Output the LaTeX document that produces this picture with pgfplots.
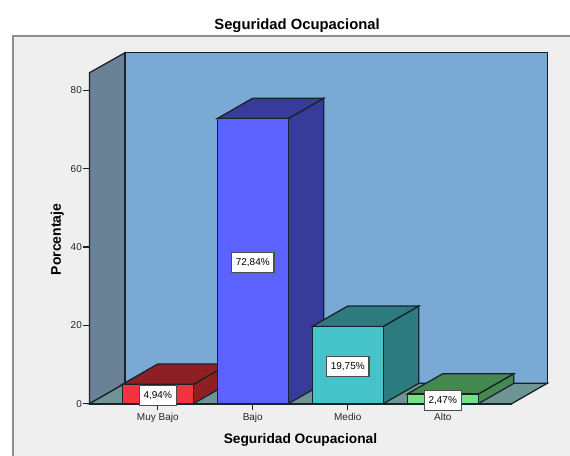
\documentclass[border=0pt]{standalone}
\usepackage{pgfplots}
\pgfplotsset{compat=1.18}
\usepackage{fontspec}
\setmainfont{Liberation Sans}
\definecolor{panel}{HTML}{EFEFEF}
\definecolor{frame}{HTML}{8E8E8E}
\definecolor{edge}{HTML}{17232B}
\definecolor{wallL}{HTML}{6B8196}
\definecolor{wallB}{HTML}{7BA9D5}
\definecolor{floorc}{HTML}{6F9494}
\definecolor{redF}{HTML}{F5333F}
\definecolor{redD}{HTML}{8E1F22}
\definecolor{bluF}{HTML}{5B62FF}
\definecolor{bluD}{HTML}{383B99}
\definecolor{teaF}{HTML}{45C3C8}
\definecolor{teaD}{HTML}{2B7B7F}
\definecolor{greF}{HTML}{73E186}
\definecolor{greD}{HTML}{458950}
\begin{document}
\begin{tikzpicture}
\path[use as bounding box,fill=white] (0,0) rectangle (427.5pt,341.25pt);
\draw[frame,fill=panel,line width=1.1pt] (9.75pt,-10pt) rectangle (440pt,314.25pt);
\begin{axis}[
  at={(67.1pt,38.475pt)},anchor=south west,
  scale only axis,width=343.275pt,height=263.25pt,
  xmin=-0.719,xmax=4.099,ymin=0,ymax=89.66,
  clip=false,
  axis line style={draw=none},
  tick align=outside,xtick pos=bottom,ytick pos=left,
  major tick length=4.6pt,
  tick style={edge,line width=1pt},
  xtick={0,1,2,3},
  xticklabels={Muy Bajo,Bajo,Medio,Alto},
  ytick={0,20,40,60,80},
  /pgf/number format/assume math mode=true,
  tick label style={font=\fontsize{7.5}{9}\selectfont,text=black!85},
  xticklabel style={yshift=0.6pt},
  yticklabel style={xshift=2.4pt},
  title={Seguridad Ocupacional},
  every axis title/.style={at={(axis description cs:0.4535,1.077)},anchor=center,font=\fontsize{11.1}{13}\selectfont\bfseries},
  xlabel={Seguridad Ocupacional},
  ylabel={Porcentaje},
  every axis x label/.style={at={(axis description cs:0.461,-0.103)},anchor=center,font=\fontsize{10.3}{12}\selectfont\bfseries},
  every axis y label/.style={at={(axis description cs:-0.0705,0.468)},anchor=center,rotate=90,font=\fontsize{10.5}{12}\selectfont\bfseries},
]
\pgfplotsset{every axis plot/.append style={draw=edge,line width=0.95pt,line join=miter,mark=none}}
% walls and floor
\addplot[fill=wallL] coordinates {(-0.719,0) (-0.345,5.2) (-0.345,89.66) (-0.719,84.55)} --cycle;
\addplot[fill=wallB] coordinates {(-0.345,5.2) (4.099,5.2) (4.099,89.66) (-0.345,89.66)} --cycle;
\addplot[fill=floorc] coordinates {(-0.719,0) (3.726,0) (4.099,5.2) (-0.345,5.2)} --cycle;
% Muy Bajo
\addplot[fill=redD] coordinates {(0.374,0) (0.748,5.2) (0.748,10.14) (0.374,4.94)} --cycle;
\addplot[fill=redD] coordinates {(-0.374,4.94) (0.374,4.94) (0.748,10.14) (0,10.14)} --cycle;
\addplot[fill=redF] coordinates {(-0.374,0) (0.374,0) (0.374,4.94) (-0.374,4.94)} --cycle;
% Bajo
\addplot[fill=bluD] coordinates {(1.374,0) (1.748,5.2) (1.748,78.04) (1.374,72.84)} --cycle;
\addplot[fill=bluD] coordinates {(0.626,72.84) (1.374,72.84) (1.748,78.04) (1,78.04)} --cycle;
\addplot[fill=bluF] coordinates {(0.626,0) (1.374,0) (1.374,72.84) (0.626,72.84)} --cycle;
% Medio
\addplot[fill=teaD] coordinates {(2.374,0) (2.748,5.2) (2.748,24.95) (2.374,19.75)} --cycle;
\addplot[fill=teaD] coordinates {(1.626,19.75) (2.374,19.75) (2.748,24.95) (2,24.95)} --cycle;
\addplot[fill=teaF] coordinates {(1.626,0) (2.374,0) (2.374,19.75) (1.626,19.75)} --cycle;
% Alto
\addplot[fill=greD] coordinates {(3.374,0) (3.748,5.2) (3.748,7.67) (3.374,2.47)} --cycle;
\addplot[fill=greD] coordinates {(2.626,2.47) (3.374,2.47) (3.748,7.67) (3,7.67)} --cycle;
\addplot[fill=greF] coordinates {(2.626,0) (3.374,0) (3.374,2.47) (2.626,2.47)} --cycle;
% axis base line
\addplot[line width=1.2pt] coordinates {(-0.719,0) (3.726,0)};
% value labels
\addplot[draw=none,
  nodes near coords,point meta=explicit symbolic,nodes near coords align=center,
  every node near coord/.style={fill=white,draw=black!70,line width=0.8pt,
    font=\fontsize{7.5}{9}\selectfont,inner sep=0pt,text=black,yshift=-1pt,
    minimum height=15pt,inner xsep=3.2pt,anchor=center}]
  coordinates {
    (0,2.47) [4,94\%]
    (1,36.42) [72,84\%]
    (2,9.875) [19,75\%]
    (3,1.235) [2,47\%]
  };
\end{axis}
\end{tikzpicture}
\end{document}
